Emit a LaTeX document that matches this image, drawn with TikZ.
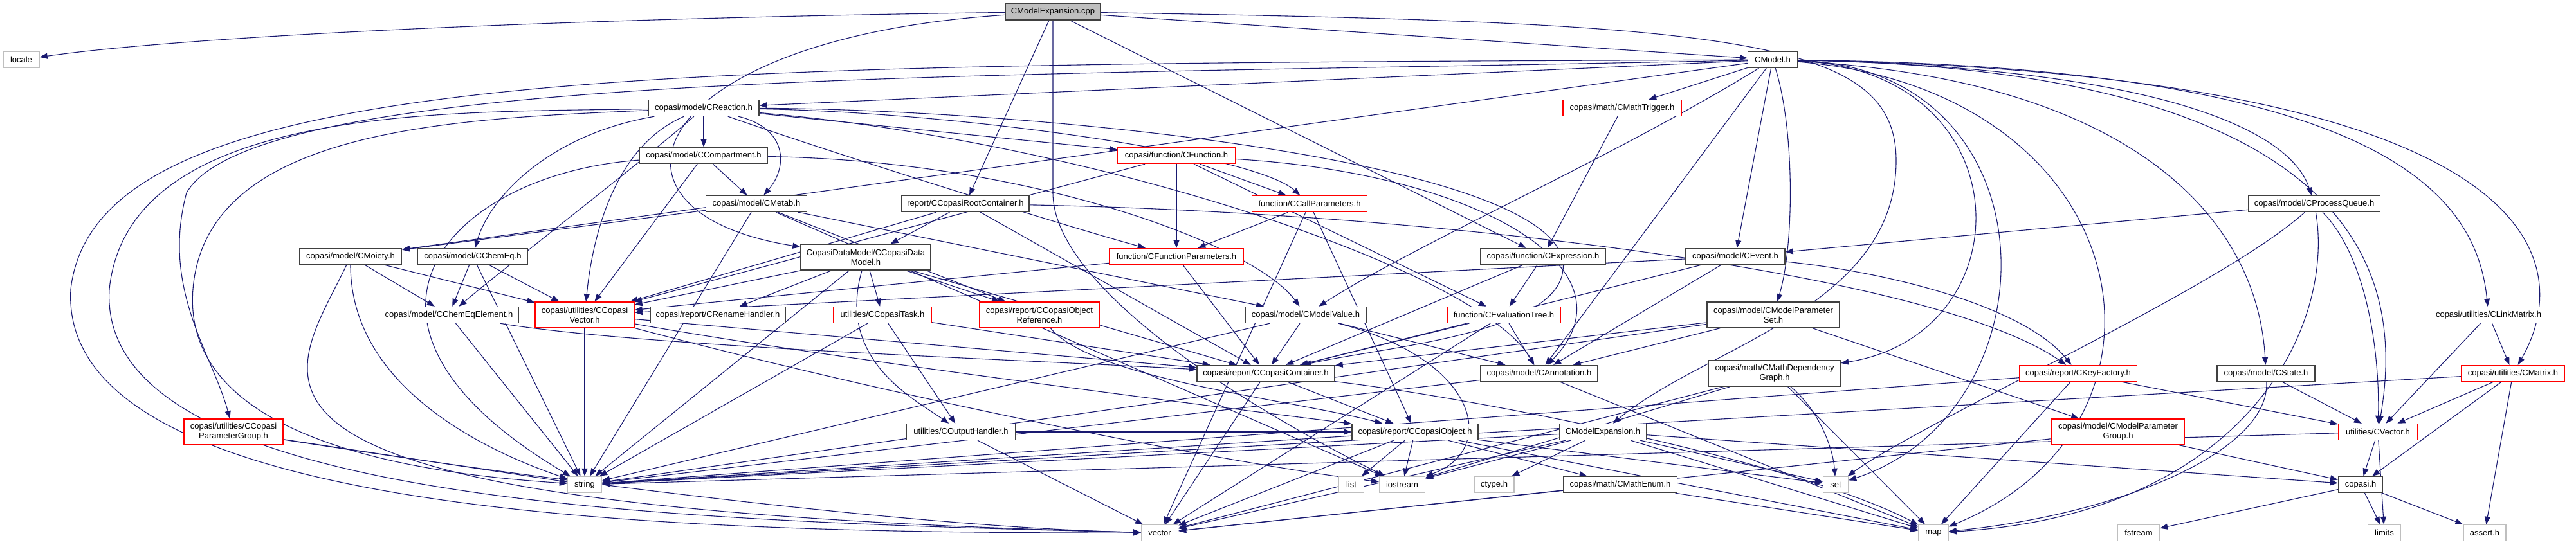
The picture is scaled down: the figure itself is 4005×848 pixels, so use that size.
\documentclass[tikz,border=0pt]{standalone}
\usepackage{fontspec}
\setmainfont{Liberation Sans}
\usetikzlibrary{arrows.meta,backgrounds}
\definecolor{edgec}{RGB}{25,25,112}
\definecolor{nb}{RGB}{64,64,64}
\definecolor{sysb}{RGB}{191,191,191}
\definecolor{rootf}{RGB}{191,191,191}
\begin{document}
\begin{tikzpicture}[x=1pt,y=-1pt,
  box/.style={draw=nb, line width=1.4pt, fill=white, minimum height=25pt, inner sep=0pt, font=\fontsize{13}{15}\selectfont, align=center},
  redbox/.style={box, draw=red},
  sysbox/.style={box, draw=sysb},
  dep/.style={draw=edgec, line width=1.1pt, -{Triangle[length=12pt,width=9pt]}}
]
\useasboundingbox (0,0) rectangle (4005,848);

\node[box, fill=rootf, minimum width=148pt] (root) at (1637,18.5) {CModelExpansion.cpp};
\node[sysbox, minimum width=56pt] (locale) at (33,93) {locale};
\node[box, minimum width=77pt] (CModel) at (2756,93) {CModel.h};
\node[box, minimum width=172pt] (CReaction) at (1094,168) {copasi/model/CReaction.h};
\node[redbox, minimum width=184pt] (CMathTrigger) at (2522,168) {copasi/math/CMathTrigger.h};
\node[box, minimum width=199pt] (CCompartment) at (1094,242) {copasi/model/CCompartment.h};
\node[redbox, minimum width=183pt] (CFunction) at (1829,242) {copasi/function/CFunction.h};
\node[box, minimum width=157pt] (CMetab) at (1176,317) {copasi/model/CMetab.h};
\node[box, minimum width=198pt] (RootC) at (1501,317) {report/CCopasiRootContainer.h};
\node[redbox, minimum width=179pt] (CCallP) at (2036,317) {function/CCallParameters.h};
\node[box, minimum width=205pt] (CPQ) at (3598,317) {copasi/model/CProcessQueue.h};
\node[box, minimum width=159pt] (CMoiety) at (545,399) {copasi/model/CMoiety.h};
\node[box, minimum width=171pt] (CChemEq) at (735,399) {copasi/model/CChemEq.h};
\node[box, minimum width=202pt, minimum height=40pt] (DataModel) at (1346,400) {CopasiDataModel/CCopasiData\\Model.h};
\node[redbox, minimum width=208pt] (CFuncP) at (1829,399) {function/CFunctionParameters.h};
\node[box, minimum width=194pt] (CExpr) at (2399,399) {copasi/function/CExpression.h};
\node[box, minimum width=154pt] (CEvent) at (2698,399) {copasi/model/CEvent.h};
\node[redbox, minimum width=154pt, minimum height=40pt] (CCVec) at (909,490) {copasi/utilities/CCopasi\\Vector.h};
\node[box, minimum width=217pt] (CCEE) at (698,490) {copasi/model/CChemEqElement.h};
\node[box, minimum width=210pt] (CRename) at (1116,490) {copasi/report/CRenameHandler.h};
\node[redbox, minimum width=152pt] (CTask) at (1372,490) {utilities/CCopasiTask.h};
\node[redbox, minimum width=187pt, minimum height=40pt] (CObjRef) at (1616,490) {copasi/report/CCopasiObject\\Reference.h};
\node[box, minimum width=188pt] (CMValue) at (2030,490) {copasi/model/CModelValue.h};
\node[redbox, minimum width=176pt] (CEvalT) at (2338,490) {function/CEvaluationTree.h};
\node[box, minimum width=206pt, minimum height=40pt] (CMPSet) at (2757,490) {copasi/model/CModelParameter\\Set.h};
\node[box, minimum width=185pt] (CLinkM) at (3869,490) {copasi/utilities/CLinkMatrix.h};
\node[box, minimum width=214pt] (CContainer) at (1968,581) {copasi/report/CCopasiContainer.h};
\node[box, minimum width=182pt] (CAnnot) at (2393,581) {copasi/model/CAnnotation.h};
\node[box, minimum width=205pt, minimum height=40pt] (CMDG) at (2759,581) {copasi/math/CMathDependency\\Graph.h};
\node[redbox, minimum width=183pt] (CKeyF) at (3231,581) {copasi/report/CKeyFactory.h};
\node[box, minimum width=152pt] (CState) at (3523,581) {copasi/model/CState.h};
\node[redbox, minimum width=161pt] (CMatrix) at (3907,581) {copasi/utilities/CMatrix.h};
\node[redbox, minimum width=154pt, minimum height=40pt] (CParamGroup) at (363,672) {copasi/utilities/CCopasi\\ParameterGroup.h};
\node[box, minimum width=169pt] (COutH) at (1494,672) {utilities/COutputHandler.h};
\node[box, minimum width=196pt] (CObject) at (2200,672) {copasi/report/CCopasiObject.h};
\node[box, minimum width=135pt] (CMExpH) at (2492,672) {CModelExpansion.h};
\node[redbox, minimum width=207pt, minimum height=40pt] (CMPGroup) at (3293,672) {copasi/model/CModelParameter\\Group.h};
\node[redbox, minimum width=123pt] (CVector) at (3697,672) {utilities/CVector.h};
\node[sysbox, minimum width=53pt] (string) at (909,754) {string};
\node[sysbox, minimum width=39pt] (list) at (2101,754) {list};
\node[sysbox, minimum width=71pt] (iostream) at (2180,754) {iostream};
\node[sysbox, minimum width=62pt] (ctype) at (2323,754) {ctype.h};
\node[box, minimum width=177pt] (CMathEnum) at (2519,754) {copasi/math/CMathEnum.h};
\node[sysbox, minimum width=39pt] (set) at (2854,754) {set};
\node[box, minimum width=69pt] (copasih) at (3670,754) {copasi.h};
\node[sysbox, minimum width=57pt] (vector) at (1803,829) {vector};
\node[sysbox, minimum width=46pt] (map) at (3006,829) {map};
\node[sysbox, minimum width=65pt] (fstream) at (3325,829) {fstream};
\node[sysbox, minimum width=51pt] (limits) at (3707,829) {limits};
\node[sysbox, minimum width=66pt] (assert) at (3863,829) {assert.h};

\begin{pgfonlayer}{background}
\fill[white] (0,0) rectangle (4005,848);
% root
\draw[dep] (root) .. controls (900,28) and (300,55) .. (locale);
\draw[dep] (root) -- (CModel);
\draw[dep] (root) -- (RootC);
\draw[dep] (root) .. controls (1000,60) and (900,330) .. (DataModel);
\draw[dep] (root) -- (CExpr);
\draw[dep] (root) .. controls (2700,35) and (2948,60) .. (2948,250) .. controls (2948,480) and (2650,540) .. (CMExpH);
\draw[dep] (root) -- (1637,300) .. controls (1637,450) and (1950,640) .. (iostream);
% CModel
\draw[dep] (CModel) -- (CReaction);
\draw[dep] (CModel) -- (CMathTrigger);
\draw[dep] (CModel) -- (CEvent);
\draw[dep] (CModel) -- (CMoiety);
\draw[dep] (CModel) .. controls (2500,250) and (2200,380) .. (CMValue);
\draw[dep] (CModel) .. controls (2790,200) and (2790,380) .. (CMPSet);
\draw[dep] (CModel) .. controls (3150,110) and (3150,520) .. (CMDG);
\draw[dep] (CModel) .. controls (3200,105) and (3200,640) .. (set);
\draw[dep] (CModel) .. controls (3350,105) and (3560,200) .. (CPQ);
\draw[dep] (CModel) .. controls (3330,125) and (3510,350) .. (CState);
\draw[dep] (CModel) .. controls (3700,108) and (3735,450) .. (CVector);
\draw[dep] (CModel) .. controls (3700,103) and (3850,300) .. (CLinkM);
\draw[dep] (CModel) .. controls (3990,115) and (4000,420) .. (CMatrix);
\draw[dep] (CModel) .. controls (3330,140) and (3420,660) .. (map);
\draw[dep] (CModel) -- (CAnnot);
\draw[dep] (CModel) .. controls (1000,100) and (150,100) .. (110,450) .. controls (90,800) and (1000,830) .. (vector);
\draw[dep] (CModel) .. controls (1500,120) and (400,110) .. (290,300) .. controls (250,450) and (330,550) .. (CParamGroup);
\draw[dep] (CMathTrigger) -- (CExpr);
% CReaction
\draw[dep] (CReaction) -- (CCompartment);
\draw[dep] (CReaction) .. controls (1225,200) and (1225,260) .. (CMetab);
\draw[dep] (CReaction) .. controls (850,210) and (760,310) .. (CChemEq);
\draw[dep] (CReaction) -- (CFunction);
\draw[dep] (CReaction) .. controls (1500,175) and (1950,240) .. (CCallP);
\draw[dep] (CReaction) .. controls (1300,240) and (1650,350) .. (CFuncP);
\draw[dep] (CReaction) .. controls (950,230) and (920,380) .. (CCVec);
\draw[dep] (CReaction) .. controls (1000,250) and (780,420) .. (CCEE);
\draw[dep] (CReaction) .. controls (1700,220) and (2300,420) .. (CAnnot);
\draw[dep] (CReaction) .. controls (1600,170) and (2450,250) .. (2430,420) .. controls (2420,520) and (2150,540) .. (CContainer);
\draw[dep] (CReaction) .. controls (700,175) and (200,160) .. (170,450) .. controls (150,780) and (1000,810) .. (vector);
\draw[dep] (CReaction) .. controls (700,185) and (320,200) .. (300,450) .. controls (280,700) and (700,740) .. (string);
% CCompartment
\draw[dep] (CCompartment) -- (CMetab);
\draw[dep] (CCompartment) -- (CCVec);
\draw[dep] (CCompartment) .. controls (1600,250) and (1950,380) .. (CMValue);
\draw[dep] (CCompartment) .. controls (700,270) and (480,500) .. (string);
% CFunction
\draw[dep] (CFunction) -- (CFuncP);
\draw[dep] (CFunction) -- (CCallP);
\draw[dep] (CFunction) -- (CEvalT);
\draw[dep] (CFunction) -- (CCVec);
\draw[dep] (CFunction) .. controls (2300,270) and (2550,420) .. (CAnnot);
% CMetab
\draw[dep] (CMetab) -- (CMoiety);
\draw[dep] (CMetab) -- (CMValue);
\draw[dep] (CMetab) -- (CObjRef);
\draw[dep] (CMetab) -- (string);
\draw[dep] (CMetab) -- (iostream);
% RootC
\draw[dep] (RootC) -- (DataModel);
\draw[dep] (RootC) -- (CContainer);
\draw[dep] (RootC) -- (CCVec);
\draw[dep] (RootC) .. controls (2200,330) and (3000,420) .. (CKeyF);
% CCallP
\draw[dep] (CCallP) -- (CFuncP);
\draw[dep] (CCallP) -- (vector);
\draw[dep] (CCallP) -- (CObject);
% CPQ
\draw[dep] (CPQ) -- (CEvent);
\draw[dep] (CPQ) .. controls (3450,450) and (3000,650) .. (set);
\draw[dep] (CPQ) .. controls (3630,500) and (3500,800) .. (map);
\draw[dep] (CPQ) .. controls (3680,400) and (3700,550) .. (CVector);
% CMoiety
\draw[dep] (CMoiety) -- (CCEE);
\draw[dep] (CMoiety) -- (CCVec);
\draw[dep] (CMoiety) .. controls (545,600) and (750,700) .. (string);
\draw[dep] (CMoiety) .. controls (450,600) and (250,790) .. (vector);
% CChemEq
\draw[dep] (CChemEq) -- (CCEE);
\draw[dep] (CChemEq) -- (CCVec);
\draw[dep] (CChemEq) -- (string);
% DataModel
\draw[dep] (DataModel) -- (CTask);
\draw[dep] (DataModel) .. controls (1300,560) and (1420,620) .. (COutH);
\draw[dep] (DataModel) -- (CRename);
\draw[dep] (DataModel) -- (CCVec);
\draw[dep] (DataModel) -- (CContainer);
\draw[dep] (DataModel) -- (string);
\draw[dep] (DataModel) -- (CObjRef);
% CFuncP
\draw[dep] (CFuncP) -- (CContainer);
\draw[dep] (CFuncP) -- (CCVec);
% CExpr
\draw[dep] (CExpr) -- (CEvalT);
\draw[dep] (CExpr) -- (CContainer);
% CEvent
\draw[dep] (CEvent) -- (CAnnot);
\draw[dep] (CEvent) -- (CContainer);
\draw[dep] (CEvent) -- (CCVec);
\draw[dep] (CEvent) .. controls (2950,425) and (3150,480) .. (CKeyF);
% CCVec
\draw[dep] (CCVec) -- (string);
\draw[dep] (CCVec) -- (CContainer);
\draw[dep] (CCVec) .. controls (1300,560) and (1950,640) .. (CObject);
\draw[dep] (CCVec) .. controls (1400,620) and (1900,720) .. (iostream);
% CCEE
\draw[dep] (CCEE) -- (string);
\draw[dep] (CCEE) .. controls (1000,540) and (1600,560) .. (CContainer);
% CTask
\draw[dep] (CTask) -- (string);
\draw[dep] (CTask) -- (COutH);
\draw[dep] (CTask) -- (CContainer);
% CObjRef
\draw[dep] (CObjRef) .. controls (1700,590) and (2000,620) .. (CObject);
% CMValue
\draw[dep] (CMValue) -- (CContainer);
\draw[dep] (CMValue) -- (CAnnot);
\draw[dep] (CMValue) .. controls (2300,560) and (2330,700) .. (iostream);
\draw[dep] (CMValue) -- (string);
% CEvalT
\draw[dep] (CEvalT) -- (CContainer);
\draw[dep] (CEvalT) -- (CAnnot);
\draw[dep] (CEvalT) -- (vector);
% CMPSet
\draw[dep] (CMPSet) -- (CMPGroup);
\draw[dep] (CMPSet) -- (CAnnot);
\draw[dep] (CMPSet) -- (CContainer);
\draw[dep] (CMPSet) -- (string);
% CLinkM
\draw[dep] (CLinkM) -- (CVector);
\draw[dep] (CLinkM) -- (CMatrix);
% CContainer
\draw[dep] (CContainer) -- (CObject);
\draw[dep] (CContainer) -- (vector);
\draw[dep] (CContainer) .. controls (2300,620) and (2800,720) .. (map);
% CAnnot
\draw[dep] (CAnnot) -- (string);
\draw[dep] (CAnnot) -- (map);
% CMDG
\draw[dep] (CMDG) .. controls (2830,640) and (2850,700) .. (set);
\draw[dep] (CMDG) -- (map);
\draw[dep] (CMDG) -- (iostream);
\draw[dep] (CMDG) -- (vector);
% CKeyF
\draw[dep] (CKeyF) -- (CVector);
\draw[dep] (CKeyF) -- (map);
\draw[dep] (CKeyF) -- (string);
% CState
\draw[dep] (CState) -- (CVector);
\draw[dep] (CState) .. controls (3530,700) and (3300,800) .. (map);
% CMatrix
\draw[dep] (CMatrix) -- (CVector);
\draw[dep] (CMatrix) -- (copasih);
\draw[dep] (CMatrix) -- (assert);
\draw[dep] (CMatrix) -- (string);
% CParamGroup
\draw[dep] (CParamGroup) -- (string);
\draw[dep] (CParamGroup) .. controls (800,740) and (1400,820) .. (vector);
% COutH
\draw[dep] (COutH) -- (vector);
\draw[dep] (COutH) -- (CObject);
% CObject
\draw[dep] (CObject) -- (list);
\draw[dep] (CObject) -- (iostream);
\draw[dep] (CObject) -- (set);
\draw[dep] (CObject) -- (map);
\draw[dep] (CObject) -- (string);
\draw[dep] (CObject) -- (vector);
\draw[dep] (CObject) -- (CMathEnum);
% CMExpH
\draw[dep] (CMExpH) -- (iostream);
\draw[dep] (CMExpH) -- (ctype);
\draw[dep] (CMExpH) -- (vector);
\draw[dep] (CMExpH) -- (string);
\draw[dep] (CMExpH) -- (set);
\draw[dep] (CMExpH) -- (map);
\draw[dep] (CMExpH) -- (copasih);
% CMPGroup
\draw[dep] (CMPGroup) -- (copasih);
\draw[dep] (CMPGroup) -- (vector);
% CVector
\draw[dep] (CVector) -- (copasih);
\draw[dep] (CVector) -- (limits);
\draw[dep] (CVector) -- (string);
% CMathEnum
\draw[dep] (CMathEnum) -- (map);
\draw[dep] (CMathEnum) -- (vector);
% copasi.h
\draw[dep] (copasih) -- (fstream);
\draw[dep] (copasih) -- (limits);
\draw[dep] (copasih) -- (assert);
\end{pgfonlayer}
\end{tikzpicture}
\end{document}
